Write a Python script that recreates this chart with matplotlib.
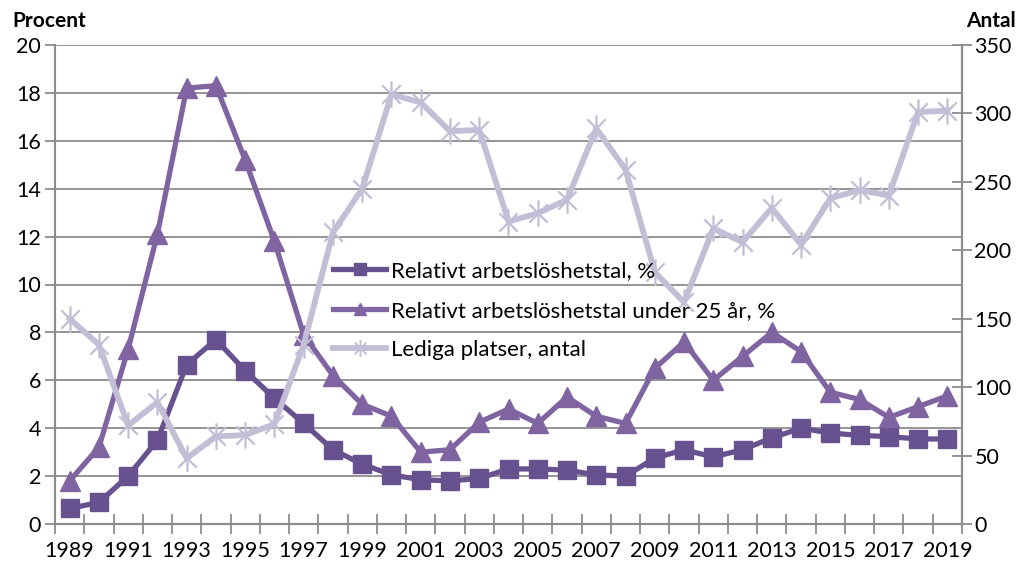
import matplotlib
matplotlib.use("Agg")
import matplotlib.pyplot as plt
from matplotlib.path import Path
from matplotlib.lines import Line2D
import numpy as np

plt.rcParams['font.family'] = ['Lato', 'DejaVu Sans']

years = list(range(1989, 2020))
rel = [0.65, 0.9, 2.0, 3.5, 6.65, 7.7, 6.4, 5.25, 4.2, 3.1, 2.5, 2.05, 1.85, 1.8, 1.9,
       2.3, 2.3, 2.25, 2.05, 2.0, 2.75, 3.1, 2.8, 3.1, 3.6, 4.0, 3.8, 3.7, 3.65, 3.55, 3.55]
rel25 = [1.8, 3.2, 7.3, 12.1, 18.2, 18.3, 15.2, 11.8, 7.9, 6.2, 5.0, 4.5, 3.0, 3.1, 4.25,
         4.8, 4.2, 5.3, 4.5, 4.2, 6.5, 7.6, 6.0, 7.0, 8.0, 7.2, 5.5, 5.2, 4.45, 4.9, 5.35]
lediga = [150, 131, 72, 89, 48, 64, 65, 73, 131, 213, 245, 314, 308, 287, 288,
          221, 227, 237, 289, 259, 184, 162, 216, 206, 231, 204, 238, 244, 240, 301, 302]
labels = ["Relativt arbetslöshetstal, %",
          "Relativt arbetslöshetstal under 25 år, %",
          "Lediga platser, antal"]

c1 = "#67528f"
c2 = "#8064a2"
c3 = "#c4bdd6"
grid_c = "#8c8c8c"

star = Path([(-0.5, -0.5), (0.5, 0.5), (-0.5, 0.5), (0.5, -0.5), (0, -0.72), (0, 0.72)],
            [Path.MOVETO, Path.LINETO, Path.MOVETO, Path.LINETO, Path.MOVETO, Path.LINETO])

fig = plt.figure(figsize=(10.21, 5.64), dpi=100)
ax = fig.add_axes([55/1021, 1-524/564, (962-55)/1021, (524-45)/564])
ax2 = ax.twinx()

x = np.arange(len(years))
ax.plot(x, rel, color=c1, lw=3.8, marker='s', ms=13.5, zorder=3)
ax.plot(x, rel25, color=c2, lw=3.8, marker='^', ms=14, zorder=3)
ax2.plot(x, lediga, color=c3, lw=4.2, marker=star, ms=19, mew=1.6, mec=c3, mfc='none', zorder=3)

ax.set_xlim(-0.5, len(years) - 0.5)
ax.set_ylim(0, 20)
ax2.set_ylim(0, 350)
ax.set_yticks(np.arange(0, 21, 2))
ax2.set_yticks(np.arange(0, 351, 50))
ax.yaxis.grid(True, color=grid_c, lw=1.3)
ax.set_axisbelow(True)

fs = 15.5
ax.set_xticks(np.arange(-0.5, len(years), 1))
ax.set_xticklabels([])
ax.set_xticks(x[::2], minor=True)
ax.set_xticklabels([str(y) for y in years[::2]], minor=True)
ax.tick_params(axis='x', which='major', direction='inout', length=14, width=1.3, color=grid_c)
ax.tick_params(axis='x', which='minor', length=0, pad=12, labelsize=fs)
ax.tick_params(axis='y', direction='out', length=7, width=1.3, color=grid_c, labelsize=fs, pad=3)
ax2.tick_params(axis='y', direction='inout', length=14, width=1.3, color=grid_c, labelsize=fs, pad=2)

for a in (ax, ax2):
    a.spines['top'].set_visible(False)
    for s in ('left', 'right', 'bottom'):
        a.spines[s].set_color(grid_c)
        a.spines[s].set_linewidth(1.5)

fig.text(12/1021, 1-21/564, "Procent", fontsize=15, fontweight='bold', va='center', ha='left')
fig.text(1016/1021, 1-21/564, "Antal", fontsize=15, fontweight='bold', va='center', ha='right')

handles = [Line2D([], [], color=c1, lw=3.8, marker='s', ms=8),
           Line2D([], [], color=c2, lw=3.8, marker='^', ms=9),
           Line2D([], [], color=c3, lw=4.2, marker=star, ms=12, mew=1.4, mec=c3, mfc='none')]
leg = fig.legend(handles, labels, loc='upper left', bbox_to_anchor=(322/1021, 1-250/564),
                 frameon=False, fontsize=16, handlelength=2.4, handletextpad=0.2,
                 labelspacing=0.88, borderpad=0)
leg.set_zorder(10)

fig.savefig("out.png", dpi=100)
